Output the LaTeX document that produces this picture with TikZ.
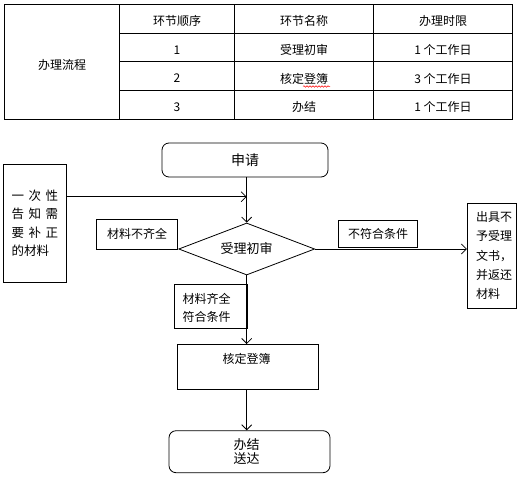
\documentclass[tikz,border=0pt]{standalone}
\usepackage{fontspec}
\setmainfont{Noto Sans CJK SC}
\usetikzlibrary{arrows.meta,shapes.geometric,decorations.pathmorphing}
\begin{document}
\begin{tikzpicture}[x=1pt,y=-1pt,
  ln/.style={draw=black,line width=0.8pt},
  arr/.style={ln,-{Straight Barb[length=5pt,width=10pt]}},
  box/.style={draw=black,line width=0.8pt,inner sep=0pt,rectangle},
  rbox/.style={box,rounded corners=7pt},
  ft/.style={font=\fontsize{12}{14}\selectfont,inner sep=0pt},
  cell/.style={ft}]
\useasboundingbox (0,0) rectangle (525,477);
% ---------------- table ----------------
\draw[line width=0.8pt] (4.7,4.7) rectangle (512.7,119);
\draw[line width=0.8pt] (119,4.7) -- (119,119);
\draw[line width=0.8pt] (234.7,4.7) -- (234.7,119);
\draw[line width=0.8pt] (373.7,4.7) -- (373.7,119);
\draw[line width=0.8pt] (119,33.3) -- (512.7,33.3);
\draw[line width=0.8pt] (119,61.7) -- (512.7,61.7);
\draw[line width=0.8pt] (119,90.3) -- (512.7,90.3);
\node[cell] (tp) at (62,64.5) {办理流程};
\node[cell] (h1) at (177,21) {环节顺序};
\node[cell] (h2) at (304,21) {环节名称};
\node[cell] (h3) at (443,21) {办理时限};
\node[cell] (a1) at (177,50) {1};
\node[cell] (b1) at (304,50) {受理初审};
\node[cell] (c1) at (443,50) {1 个工作日};
\node[cell] (a2) at (177,78.5) {2};
\node[cell] (b2) at (304,78.5) {核定登簿};
\node[cell] (c2) at (443,78.5) {3 个工作日};
\node[cell] (a3) at (177,107) {3};
\node[cell] (b3) at (304,107) {办结};
\node[cell] (c3) at (443,107) {1 个工作日};
\draw[red,line width=0.5pt,decoration={snake,amplitude=0.8pt,segment length=3pt},decorate] (303,86.5) -- (330,86.5);
% ---------------- flowchart ----------------
\node[rbox,minimum width=166pt,minimum height=34pt,font=\fontsize{14}{16}\selectfont] (apply) at (245,160) {申请};
\node[box,minimum width=63.4pt,minimum height=118.7pt,align=left,font=\fontsize{12.5}{18.5}\selectfont] (L) at (35,223.3)
  {一\hspace{4.5pt}次\hspace{4.5pt}性\\告\hspace{4.5pt}知\hspace{4.5pt}需\\要\hspace{4.5pt}补\hspace{4.5pt}正\\的材料};
\coordinate (J) at (246.7,196.7);
\node[draw=black,line width=0.8pt,diamond,aspect=2.6,inner sep=0pt,minimum width=136pt,minimum height=52pt,font=\fontsize{13}{15}\selectfont] (D) at (246.7,249) {受理初审};
\node[box,ft,minimum width=81pt,minimum height=29.7pt] (M1) at (137.2,234.2) {材料不齐全};
\node[box,ft,minimum width=79.4pt,minimum height=27.3pt] (M2) at (378,233.7) {不符合条件};
\node[box,minimum width=48.7pt,minimum height=105pt] (R) at (491.7,255.8) {};
\node[ft,font=\fontsize{12}{19.3}\selectfont,align=left,anchor=west] (Rt) at (476,255.5) {出具不\\予受理\\文书，\\并返还\\材料};
\node[box,minimum width=73pt,minimum height=44pt] (M3) at (210.8,306.3) {};
\node[ft,font=\fontsize{12}{18}\selectfont,align=left,anchor=west] (M3t) at (182.3,308) {材料齐全\\符合条件};
\node[box,minimum width=141pt,minimum height=44.7pt] (K) at (247.8,366.7) {};
\node[ft] (Kt) at (246.7,359) {核定登簿};
\node[rbox,minimum width=161pt,minimum height=42pt,align=center,font=\fontsize{13}{14}\selectfont] (F) at (249.5,451.7) {};
\node[ft,font=\fontsize{13}{14}\selectfont,align=center] (Ft) at (246.5,451.5) {办结\\送达};
% connectors
\draw[arr] (D.north |- apply.south) -- (D.north);
\draw[arr] (L.east |- J) -- (J);
\draw[arr] (D.east) -- (D.east -| R.west);
\draw[ln] (D.south) -- (D.south |- K.north);
\draw[arr] (D.south) -- (D.south |- K.north);
\draw[arr] (D.south |- K.south) -- (D.south |- F.north);
\end{tikzpicture}
\end{document}
